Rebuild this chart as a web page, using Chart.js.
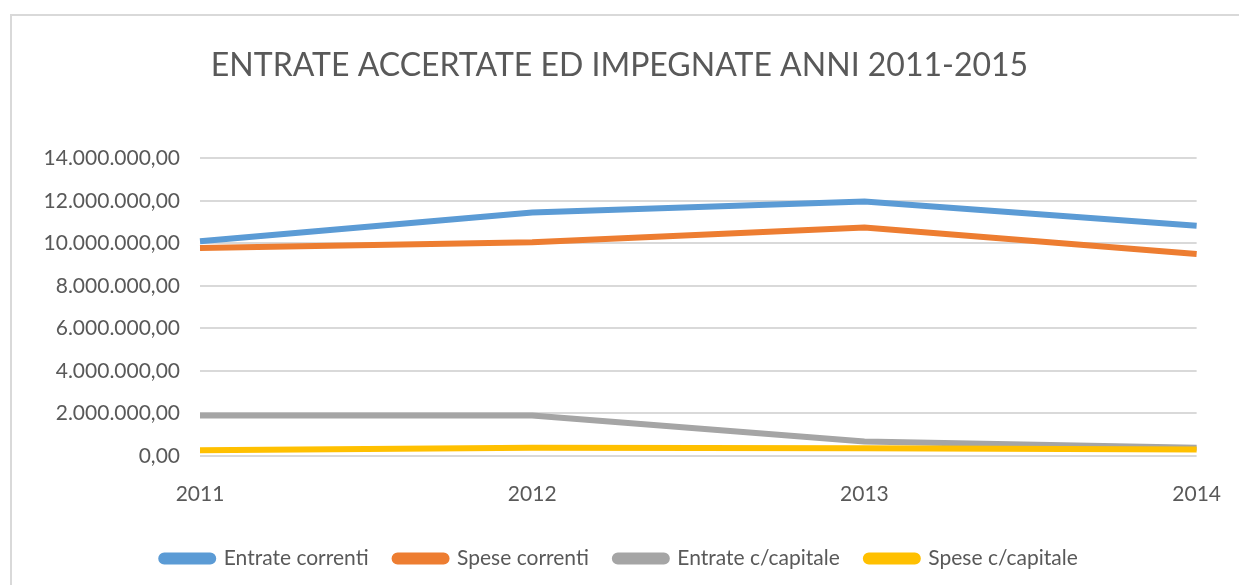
<!DOCTYPE html>
<html>
<head>
<meta charset="utf-8">
<script src="https://cdn.jsdelivr.net/npm/chart.js@4/dist/chart.umd.min.js"></script>
<style>
    html, body { margin: 0; padding: 0; background: #fff; }
    #wrap { width: 1239px; height: 585px; position: relative; }
</style>
</head>
<body>
<div id="wrap"><canvas id="chart"></canvas></div>
<script>
const years = ["2011", "2012", "2013", "2014"];
const entrateCorrenti = [10100000, 11450000, 11970000, 10830000];
const speseCorrenti = [9780000, 10050000, 10750000, 9500000];
const entrateCapitale = [1900000, 1900000, 680000, 390000];
const speseCapitale = [270000, 390000, 370000, 310000];

const textColor = "#595959";
const fontFamily = "Lato, 'Open Sans', sans-serif";

function formatEuro(value) {
    const fixed = Number(value).toFixed(2).split(".");
    const intPart = fixed[0].replace(/\B(?=(\d{3})+(?!\d))/g, ".");
    return `${intPart},${fixed[1]}`;
}

function makeSeries(label, data, color, order) {
    return {
        label,
        data,
        borderColor: color,
        backgroundColor: color,
        borderWidth: 6,
        pointRadius: 0,
        tension: 0,
        order
    };
}

const frame = {
    id: "frame",
    beforeDraw(chart) {
        const ctx = chart.ctx;
        ctx.save();
        ctx.fillStyle = "#fff";
        ctx.fillRect(0, 0, chart.width, chart.height);
        ctx.strokeStyle = "#d9d9d9";
        ctx.lineWidth = 2;
        ctx.beginPath();
        ctx.moveTo(11, chart.height);
        ctx.lineTo(11, 15);
        ctx.lineTo(chart.width, 15);
        ctx.stroke();
        ctx.restore();
    }
};

window.addEventListener("DOMContentLoaded", () => {
    const ctx = document.getElementById("chart").getContext("2d");
    new Chart(ctx, {
        type: "line",
        data: {
            labels: years,
            datasets: [
                makeSeries("Entrate correnti", entrateCorrenti, "#5B9BD5", 4),
                makeSeries("Spese correnti", speseCorrenti, "#ED7D31", 3),
                makeSeries("Entrate c/capitale", entrateCapitale, "#A5A5A5", 2),
                makeSeries("Spese c/capitale", speseCapitale, "#FFC000", 1)
            ]
        },
        options: {
            responsive: true,
            maintainAspectRatio: false,
            animation: false,
            layout: {
                padding: { left: 0, right: 0, top: 0, bottom: 6 }
            },
            plugins: {
                title: {
                    display: true,
                    text: "ENTRATE ACCERTATE ED IMPEGNATE ANNI 2011-2015",
                    color: textColor,
                    font: { family: fontFamily, size: 32, weight: "normal" },
                    padding: { top: 46, bottom: 74 }
                },
                legend: {
                    position: "bottom",
                    labels: {
                        color: textColor,
                        font: { family: fontFamily, size: 21 },
                        boxWidth: 52,
                        boxHeight: 6,
                        useBorderRadius: true,
                        borderRadius: 3,
                        padding: 26,
                        sort: (a, b) => a.datasetIndex - b.datasetIndex
                    }
                },
                tooltip: { enabled: false }
            },
            scales: {
                x: {
                    offset: false,
                    grid: { display: false },
                    border: { display: false },
                    ticks: {
                        color: textColor,
                        font: { family: fontFamily, size: 21 },
                        padding: 18,
                        maxRotation: 0,
                        autoSkip: false
                    },
                    afterFit(scale) {
                        scale.height = 66;
                    }
                },
                y: {
                    min: 0,
                    max: 14000000,
                    grid: { color: "#d9d9d9", lineWidth: 2, drawTicks: false },
                    border: { display: false },
                    ticks: {
                        stepSize: 2000000,
                        color: textColor,
                        font: { family: fontFamily, size: 21 },
                        padding: 20,
                        callback: value => formatEuro(value)
                    },
                    afterFit(scale) {
                        scale.width = 200;
                    }
                },
                spacer: {
                    type: "linear",
                    position: "right",
                    grid: { display: false },
                    border: { display: false },
                    ticks: { display: false },
                    afterFit(scale) {
                        scale.width = 42;
                    }
                }
            }
        },
        plugins: [frame]
    });
});
</script>
</body>
</html>
